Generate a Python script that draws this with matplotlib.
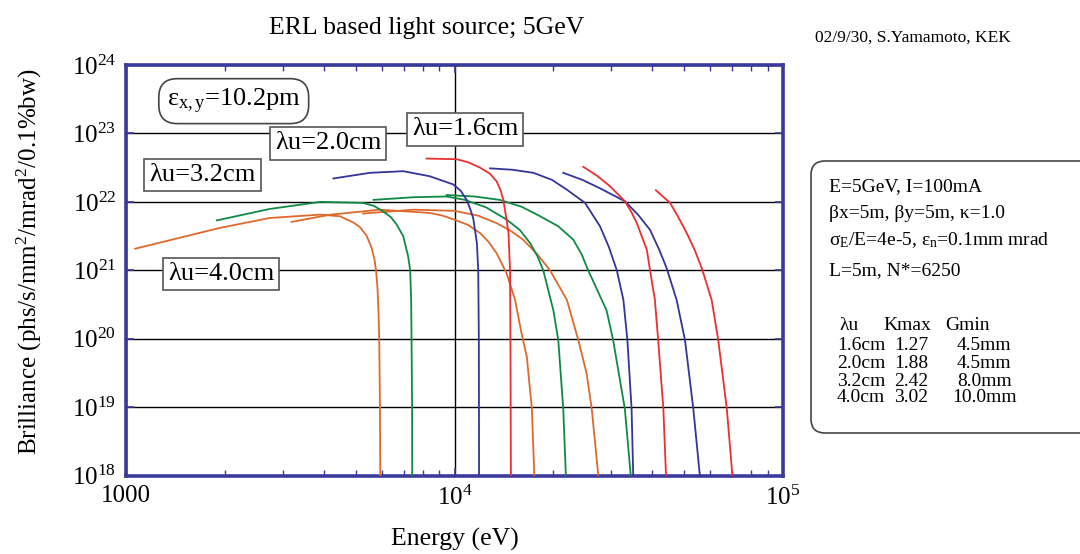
import numpy as np
import matplotlib
matplotlib.use('Agg')
import matplotlib.pyplot as plt
from matplotlib.patches import FancyBboxPatch
from matplotlib.transforms import IdentityTransform
from matplotlib.ticker import LogLocator, NullLocator, NullFormatter

plt.rcParams['font.family'] = ['Liberation Serif', 'DejaVu Serif']
plt.rcParams['mathtext.fontset'] = 'custom'
plt.rcParams['mathtext.rm'] = 'Liberation Serif'
plt.rcParams['mathtext.it'] = 'Liberation Serif:italic'
plt.rcParams['mathtext.default'] = 'regular'

# Brilliance curves, one per undulator harmonic
# lambda_u = 4.0 cm (orange)
e_40_h1 = [1066, 1930, 2740, 3900, 4480, 4920, 5150, 5400, 5580, 5700, 5770, 5830, 5870,
           5900, 5930, 5945]
b_40_h1 = [2.07e21, 4.17e21, 5.82e21, 6.52e21, 6.17e21, 5.0e21, 4.3e21, 3.2e21, 2.2e21,
           1.5e21, 1.0e21, 5.5e20, 2.5e20, 1.0e20, 9.5e18, 1.0e18]
e_40_h3 = [3190, 4180, 5930, 8410, 9200, 10000, 11000, 11970, 12700, 13430, 14400, 15290,
           16000, 16600, 17200, 17500]
b_40_h3 = [5.1e21, 6.5e21, 7.7e21, 6.9e21, 6.3e21, 5.5e21, 4.6e21, 3.5e21, 2.6e21, 1.78e21,
           9.1e20, 3.7e20, 1.2e20, 5.5e19, 9.5e18, 1.0e18]
e_40_h5 = [5270, 7500, 10000, 11800, 13430, 14800, 16180, 17900, 19540, 21980, 23830, 25250,
           26170, 27400]
b_40_h5 = [6.76e21, 7.7e21, 7.4e21, 6.3e21, 4.9e21, 3.8e21, 2.8e21, 1.7e21, 1.0e21, 3.7e20,
           9.5e19, 3.1e19, 9.5e18, 1.0e18]

# lambda_u = 3.2 cm (green)
e_32_h1 = [1890, 2740, 3900, 5270, 5700, 6070, 6400, 6670, 6980, 7230, 7330, 7380, 7400,
           7430, 7435]
b_32_h1 = [5.37e21, 7.89e21, 1.0e22, 9.66e21, 8.7e21, 7.24e21, 6.0e21, 4.65e21, 3.16e21,
           1.58e21, 1.0e21, 3.7e20, 9.5e19, 9.5e18, 1.0e18]
e_32_h3 = [5670, 7500, 9460, 10760, 12500, 14420, 15800, 16990, 17900, 18630, 20000, 20700,
           21430, 21830]
b_32_h3 = [1.07e22, 1.17e22, 1.2e22, 1.07e22, 8.3e21, 5.5e21, 3.9e21, 2.5e21, 1.6e21, 1.0e21,
           2.6e20, 9.5e19, 9.5e18, 1.0e18]
e_32_h5 = [9460, 11500, 13740, 16000, 18200, 20700, 23000, 24400, 25530, 29040, 30410, 33000,
           34400]
b_32_h5 = [1.26e22, 1.2e22, 1.07e22, 8.5e21, 6.2e21, 4.4e21, 2.8e21, 1.7e21, 1.0e21, 2.6e20,
           9.5e19, 9.5e18, 1.0e18]

# lambda_u = 2.0 cm (blue)
e_20_h1 = [4280, 5530, 6980, 8410, 9910, 10450, 10890, 11150, 11400, 11700, 11810, 11860,
           11880]
b_20_h1 = [2.2e22, 2.66e22, 2.81e22, 2.37e22, 1.8e22, 1.45e22, 1.07e22, 8.0e21, 5.8e21,
           2.5e21, 1.0e21, 1.0e20, 1.0e18]
e_20_h3 = [12830, 15000, 17380, 19800, 21970, 24950, 27730, 29500, 31200, 32670, 33600,
           34600, 35000]
b_20_h3 = [3.09e22, 2.95e22, 2.66e22, 2.1e22, 1.51e22, 9.7e21, 4.4e21, 2.2e21, 1.0e21,
           3.7e20, 9.5e19, 9.5e18, 1.0e18]
e_20_h5 = [21430, 24500, 27730, 33030, 36200, 39380, 42000, 44260, 47440, 50320, 53330, 55840]
b_20_h5 = [2.66e22, 2.1e22, 1.58e22, 1.02e22, 6.5e21, 3.9e21, 2.0e21, 1.07e21, 3.7e20, 9.5e19,
           9.5e18, 1.0e18]

# lambda_u = 1.6 cm (red)
e_16_h1 = [8220, 10160, 11000, 11970, 12800, 13430, 13800, 14080, 14430, 14600, 14760, 14800,
           14850]
b_16_h1 = [4.3e22, 4.2e22, 3.8e22, 3.16e22, 2.6e22, 2.0e22, 1.5e22, 1.07e22, 5.2e21, 3.5e21,
           1.0e21, 1.0e20, 1.0e18]
e_16_h3 = [24660, 27200, 29720, 33030, 34500, 35890, 37200, 38500, 39380, 40740, 41690,
           43230, 44040]
b_16_h3 = [3.26e22, 2.4e22, 1.7e22, 1.02e22, 7.2e21, 4.9e21, 3.1e21, 2.0e21, 1.0e21, 3.7e20,
           9.5e19, 9.5e18, 1.0e18]
e_16_h5 = [41020, 45290, 48000, 50930, 53800, 56620, 60650, 63530, 67450, 70150]
b_16_h5 = [1.48e22, 9.7e21, 6.0e21, 3.5e21, 2.0e21, 1.07e21, 3.7e20, 9.5e19, 9.5e18, 1.0e18]

y_ticks = [1e18, 1e19, 1e20, 1e21, 1e22, 1e23, 1e24]
x_ticks = [1e3, 1e4, 1e5]
x_ticklabels = ['1000', '$10^4$', '$10^5$']

curve_labels = ['λu=1.6cm', 'λu=2.0cm', 'λu=3.2cm', 'λu=4.0cm']
param_lines = ['E=5GeV, I=100mA',
               'βx=5m, βy=5m, κ=1.0',
               'σ$_E$/E=4e-5, ε$_n$=0.1mm mrad',
               'L=5m, N*=6250']
table_head = ['λu', 'Kmax', 'Gmin']
table_lu = ['1.6cm', '2.0cm', '3.2cm', '4.0cm']
table_kmax = ['1.27', '1.88', '2.42', '3.02']
table_gmin = ['4.5mm', '4.5mm', '8.0mm', '10.0mm']

FRAME = '#3a3a9c'
ORANGE = '#dd6a2c'
GREEN = '#0e8a46'
BLUE = '#34349a'
RED = '#ee2e2e'

fig = plt.figure(figsize=(10.8, 5.54), dpi=100)
ax = fig.add_axes([126 / 1080, 1 - 475.7 / 554, 657 / 1080, 410.7 / 554])

groups = [
    (ORANGE, [(e_40_h1, b_40_h1), (e_40_h3, b_40_h3), (e_40_h5, b_40_h5)]),
    (GREEN, [(e_32_h1, b_32_h1), (e_32_h3, b_32_h3), (e_32_h5, b_32_h5)]),
    (BLUE, [(e_20_h1, b_20_h1), (e_20_h3, b_20_h3), (e_20_h5, b_20_h5)]),
    (RED, [(e_16_h1, b_16_h1), (e_16_h3, b_16_h3), (e_16_h5, b_16_h5)]),
]
for color, curves in groups:
    for e, b in curves:
        ax.plot(e, b, color=color, lw=1.3, zorder=3, solid_joinstyle='round')

ax.set_xscale('log')
ax.set_yscale('log')
ax.set_xlim(1e3, 1e5)
ax.set_ylim(1e18, 1e24)

ax.set_xticks(x_ticks)
ax.set_xticklabels(x_ticklabels)
ax.xaxis.set_minor_locator(LogLocator(base=10, subs=range(2, 10)))
ax.xaxis.set_minor_formatter(NullFormatter())
ax.set_yticks(y_ticks)
ax.yaxis.set_minor_locator(NullLocator())

ax.tick_params(which='both', direction='in', top=True, right=True,
               color=FRAME, labelsize=18, pad=7)
ax.tick_params(which='major', length=6, width=1.2)
ax.tick_params(which='minor', length=4, width=1.0)

ax.grid(True, which='major', color='black', lw=1.0)
ax.set_axisbelow(True)
for s in ax.spines.values():
    s.set_color(FRAME)
    s.set_linewidth(2.6)

ax.set_xlabel('Energy (eV)', fontsize=18.5)
ax.xaxis.set_label_coords(0.5, -0.128)
ax.set_ylabel('Brilliance (phs/s/mm$^2$/mrad$^2$/0.1%bw)', fontsize=18)
ax.yaxis.set_label_coords(-0.125, 0.52)

fig.text(427 / 1080, 1 - 28 / 554, 'ERL based light source; 5GeV',
         fontsize=18.5, ha='center', va='center')
fig.text(815 / 1080, 1 - 38 / 554, '02/9/30, S.Yamamoto, KEK',
         fontsize=12.5, ha='left', va='center')

# labels inside the plot
box = dict(boxstyle='square,pad=0.2', fc='white', ec='#555555', lw=1.2)
label_pos = [(0.516, 0.843), (0.3075, 0.809), (0.1164, 0.732), (0.1446, 0.491)]
for txt, (x, y) in zip(curve_labels, label_pos):
    ax.text(x, y, txt, transform=ax.transAxes, ha='center', va='center',
            fontsize=19, bbox=box, zorder=5)
ax.text(0.164, 0.912, 'ε$_{x,y}$=10.2pm', transform=ax.transAxes, ha='center',
        va='center', fontsize=19, zorder=5,
        bbox=dict(boxstyle='round,pad=0.3,rounding_size=0.7', fc='white', ec='#444444', lw=1.2))

# parameter box on the right
fig.add_artist(FancyBboxPatch((811, 554 - 433), 320, 272,
                              boxstyle='round,pad=0,rounding_size=14',
                              transform=IdentityTransform(), fc='white',
                              ec='#444444', lw=1.2))
for txt, y in zip(param_lines, [187, 213, 240, 271]):
    fig.text(829 / 1080, 1 - y / 554, txt, fontsize=14, ha='left', va='center')
for txt, x in zip(table_head, [839, 883, 945]):
    fig.text(x / 1080, 1 - 326 / 554, txt, fontsize=14, ha='left', va='center')
for i, y in enumerate([346, 363, 381, 398]):
    fig.text(837 / 1080, 1 - y / 554, table_lu[i], fontsize=14, ha='left', va='center')
    fig.text(894 / 1080, 1 - y / 554, table_kmax[i], fontsize=14, ha='left', va='center')
    gx = 957 if len(table_gmin[i]) < 6 else 952
    fig.text(gx / 1080, 1 - y / 554, table_gmin[i], fontsize=14, ha='left', va='center')

fig.savefig('out.png', dpi=100)
